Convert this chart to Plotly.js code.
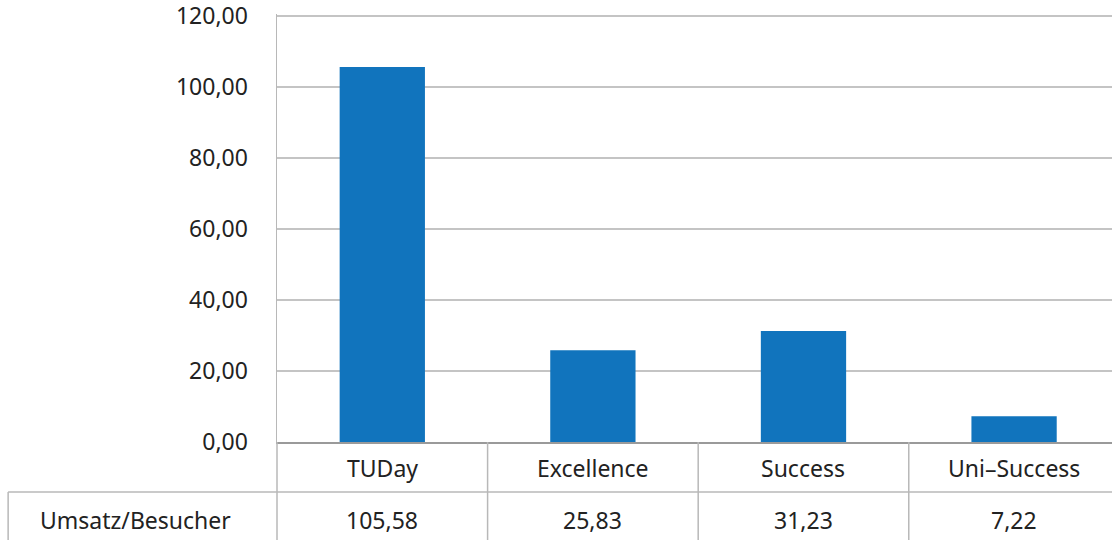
<!DOCTYPE html>
<html>
<head>
<meta charset="utf-8">
<script src="https://cdn.plot.ly/plotly-3.0.1.min.js"></script>
<style>
  html, body { margin: 0; padding: 0; background: #ffffff; }
  #chart { width: 1112px; height: 540px; }
</style>
</head>
<body>
<div id="chart"></div>
<script>
// Umsatz pro Besucher je Veranstaltung
const categories = ['TUDay', 'Excellence', 'Success', 'Uni–Success'];
const umsatzProBesucher = [105.58, 25.83, 31.23, 7.22];
const rowLabel = 'Umsatz/Besucher';
const yTickValues = [0, 20, 40, 60, 80, 100, 120];

const FONT = 'Noto Sans, DejaVu Sans, sans-serif';
const FONT_SIZE = 23;
const TEXT_COLOR = '#222222';
const BAR_COLOR = '#1174bd';
const GRID_COLOR = '#c4c4c4';
const TABLE_LINE = '#b8b8b8';

const fmt = v => v.toFixed(2).replace('.', ',');

const idx = categories.map((_, i) => i);

const trace = {
  type: 'bar',
  x: idx,
  y: umsatzProBesucher,
  marker: { color: BAR_COLOR, line: { width: 0 } },
  width: 0.405,
  hoverinfo: 'skip'
};

// data table below the plot: category row and value row (paper y: 0 = value axis zero)
const ROW1_Y = -0.061;
const ROW2_Y = -0.182;
const ROW_LINE_Y = -0.117;
const TABLE_BOTTOM = -0.26;
const TABLE_LEFT = -0.322;
const ROW_LABEL_X = -0.169;

const annotations = [];
idx.forEach(i => {
  annotations.push({
    x: i, xref: 'x', y: ROW1_Y, yref: 'paper',
    text: categories[i], showarrow: false,
    xanchor: 'center', yanchor: 'middle',
    font: { family: FONT, size: FONT_SIZE, color: TEXT_COLOR }
  });
  annotations.push({
    x: i, xref: 'x', y: ROW2_Y, yref: 'paper',
    text: fmt(umsatzProBesucher[i]), showarrow: false,
    xanchor: 'center', yanchor: 'middle',
    font: { family: FONT, size: FONT_SIZE, color: TEXT_COLOR }
  });
});
annotations.push({
  x: ROW_LABEL_X, xref: 'paper', y: ROW2_Y, yref: 'paper',
  text: rowLabel, showarrow: false,
  xanchor: 'center', yanchor: 'middle',
  font: { family: FONT, size: FONT_SIZE, color: TEXT_COLOR }
});

const shapes = [];
// vertical separators between categories, through both table rows
for (let i = 0; i < categories.length - 1; i++) {
  shapes.push({
    type: 'line', xref: 'x', yref: 'paper',
    x0: i + 0.5, x1: i + 0.5, y0: 0, y1: TABLE_BOTTOM,
    line: { color: TABLE_LINE, width: 1.5 }
  });
}
// left axis line continued down through the table
shapes.push({
  type: 'line', xref: 'paper', yref: 'paper',
  x0: 0, x1: 0, y0: 0, y1: TABLE_BOTTOM,
  line: { color: TABLE_LINE, width: 1.5 }
});
// horizontal line between category row and value row
shapes.push({
  type: 'line', xref: 'paper', yref: 'paper',
  x0: TABLE_LEFT, x1: 1.02, y0: ROW_LINE_Y, y1: ROW_LINE_Y,
  line: { color: TABLE_LINE, width: 1.5 }
});
// left border of the value row
shapes.push({
  type: 'line', xref: 'paper', yref: 'paper',
  x0: TABLE_LEFT, x1: TABLE_LEFT, y0: ROW_LINE_Y, y1: TABLE_BOTTOM,
  line: { color: TABLE_LINE, width: 1.5 }
});

const layout = {
  width: 1112,
  height: 540,
  margin: { l: 277, r: 0, t: 14, b: 98, pad: 0 },
  paper_bgcolor: '#ffffff',
  plot_bgcolor: '#ffffff',
  showlegend: false,
  font: { family: FONT, size: FONT_SIZE, color: TEXT_COLOR },
  xaxis: {
    type: 'linear',
    range: [-0.5, 3.465],
    showgrid: false,
    zeroline: false,
    showticklabels: false,
    ticks: '',
    showline: true,
    linecolor: '#9a9a9a',
    linewidth: 2,
    fixedrange: true
  },
  yaxis: {
    range: [0, 120.5],
    tickmode: 'array',
    tickvals: yTickValues,
    ticktext: yTickValues.map(fmt),
    ticklabeloverflow: 'allow',
    showgrid: true,
    gridcolor: GRID_COLOR,
    gridwidth: 1.5,
    zeroline: false,
    showline: true,
    linecolor: TABLE_LINE,
    linewidth: 1.5,
    ticks: '',
    ticklabelstandoff: 23,
    tickfont: { family: FONT, size: FONT_SIZE, color: TEXT_COLOR },
    fixedrange: true
  },
  annotations: annotations,
  shapes: shapes
};

Plotly.newPlot('chart', [trace], layout, { displayModeBar: false, staticPlot: true });
</script>
</body>
</html>
